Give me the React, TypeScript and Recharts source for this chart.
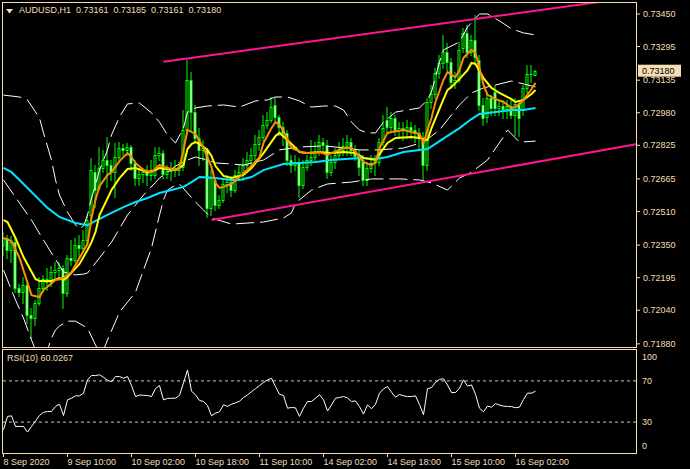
import React from "react";
import { ComposedChart, Bar, Line, XAxis, YAxis, ReferenceLine } from "recharts";

const WHEAT = "#F5DEB3";
const FONT = "'Liberation Sans', Arial, sans-serif";

// AUDUSD H1 bars, 8 Sep 18:00 .. 16 Sep 07:00 (index = bar number)
const opens = [
  0.7235, 0.72384, 0.72327, 0.72364, 0.72146, 0.72126, 0.7216, 0.72017, 0.72003, 0.72074,
  0.72146, 0.72189, 0.72174, 0.72222, 0.72231, 0.72241, 0.72122, 0.72289, 0.72279, 0.7235,
  0.72336, 0.72374, 0.72493, 0.72697, 0.72622, 0.72717, 0.72755, 0.72731, 0.72697, 0.72769,
  0.72812, 0.72803, 0.72817, 0.72741, 0.72669, 0.72688, 0.72697, 0.72684, 0.72684, 0.72779,
  0.72788, 0.72688, 0.72702, 0.72717, 0.72707, 0.72722, 0.72898, 0.73136, 0.72983, 0.7286,
  0.72803, 0.72803, 0.72527, 0.7266, 0.72541, 0.72565, 0.72641, 0.7265, 0.72612, 0.72684,
  0.72697, 0.72731, 0.72755, 0.72779, 0.72831, 0.72865, 0.72922, 0.72945, 0.73017, 0.7296,
  0.72912, 0.72884, 0.72755, 0.72731, 0.72745, 0.72636, 0.72722, 0.72755, 0.72769, 0.72793,
  0.7284, 0.72826, 0.72697, 0.72745, 0.72779, 0.72803, 0.72822, 0.7284, 0.72803, 0.72774,
  0.72755, 0.7266, 0.72717, 0.72741, 0.72745, 0.7284, 0.72945, 0.72912, 0.72955, 0.72898,
  0.72907, 0.72898, 0.72912, 0.72898, 0.72884, 0.7286, 0.72731, 0.73031, 0.73069, 0.73169,
  0.73217, 0.73269, 0.73221, 0.73126, 0.73136, 0.73288, 0.7336, 0.73269, 0.73326, 0.73231,
  0.73017, 0.7296, 0.7305, 0.73079, 0.73003, 0.73012, 0.72998, 0.73012, 0.72969, 0.73022,
  0.72993, 0.73098, 0.73164, 0.73161,
];
const highs = [
  0.72412, 0.72398, 0.72393, 0.72384, 0.72165, 0.72198, 0.72174, 0.72051, 0.72089, 0.72198,
  0.72208, 0.72241, 0.7225, 0.72269, 0.72269, 0.72255, 0.72303, 0.72374, 0.72384, 0.72398,
  0.72422, 0.72493, 0.72765, 0.72731, 0.72817, 0.72803, 0.72865, 0.72755, 0.72836, 0.7284,
  0.72831, 0.72836, 0.72826, 0.72755, 0.72717, 0.72717, 0.72731, 0.72755, 0.72817, 0.72817,
  0.72803, 0.72731, 0.72745, 0.72755, 0.72745, 0.72993, 0.73231, 0.73174, 0.73017, 0.72907,
  0.7285, 0.72812, 0.72707, 0.72669, 0.72588, 0.7266, 0.72684, 0.72679, 0.72707, 0.72731,
  0.72765, 0.72793, 0.72812, 0.72874, 0.72898, 0.72969, 0.72983, 0.73055, 0.73055, 0.72969,
  0.72935, 0.72898, 0.72779, 0.72779, 0.72765, 0.72755, 0.72779, 0.7285, 0.7284, 0.72874,
  0.7286, 0.7285, 0.72779, 0.72812, 0.7284, 0.7286, 0.72874, 0.7286, 0.72826, 0.72803,
  0.72779, 0.72745, 0.72779, 0.72779, 0.7286, 0.72969, 0.73007, 0.72983, 0.72969, 0.72935,
  0.72935, 0.72945, 0.72935, 0.72922, 0.72907, 0.72888, 0.7305, 0.73112, 0.73193, 0.73255,
  0.7335, 0.73312, 0.73241, 0.73174, 0.73317, 0.73384, 0.73398, 0.7335, 0.73445, 0.73255,
  0.7305, 0.73079, 0.73064, 0.73112, 0.73041, 0.73041, 0.73041, 0.73041, 0.7305, 0.73041,
  0.73112, 0.73207, 0.73207, 0.73185,
];
const lows = [
  0.72303, 0.72289, 0.72269, 0.72126, 0.72107, 0.72074, 0.71979, 0.71908, 0.7197, 0.72065,
  0.72126, 0.72136, 0.72155, 0.72193, 0.72184, 0.72051, 0.72107, 0.72255, 0.72269, 0.72289,
  0.72317, 0.7235, 0.72445, 0.72531, 0.72612, 0.72697, 0.72627, 0.7266, 0.72579, 0.72755,
  0.72779, 0.72779, 0.72707, 0.72636, 0.72636, 0.7265, 0.72636, 0.7266, 0.72669, 0.72755,
  0.72669, 0.72669, 0.7266, 0.72679, 0.72684, 0.72707, 0.72888, 0.72898, 0.7284, 0.72731,
  0.72755, 0.72484, 0.72493, 0.72517, 0.72527, 0.72555, 0.72603, 0.72584, 0.72603, 0.7266,
  0.7266, 0.72717, 0.72731, 0.72745, 0.72803, 0.7285, 0.72907, 0.72935, 0.72935, 0.72874,
  0.72826, 0.72731, 0.72697, 0.72707, 0.72579, 0.72622, 0.72707, 0.72731, 0.72755, 0.72779,
  0.72803, 0.72669, 0.72684, 0.72717, 0.72765, 0.72779, 0.72779, 0.72779, 0.72755, 0.72684,
  0.72636, 0.72636, 0.72697, 0.72684, 0.72731, 0.72826, 0.72884, 0.72888, 0.72874, 0.7286,
  0.7285, 0.7286, 0.7286, 0.7284, 0.72803, 0.7266, 0.72707, 0.73003, 0.7305, 0.73145,
  0.73193, 0.73183, 0.73098, 0.73098, 0.73126, 0.73269, 0.73245, 0.73255, 0.73221, 0.72993,
  0.72922, 0.72935, 0.72969, 0.72969, 0.72969, 0.72955, 0.72955, 0.72955, 0.72874, 0.72869,
  0.72969, 0.73079, 0.73126, 0.73161,
];
const closes = [
  0.72384, 0.72327, 0.72364, 0.72146, 0.72126, 0.7216, 0.72017, 0.72003, 0.72074, 0.72146,
  0.72189, 0.72174, 0.72222, 0.72231, 0.72241, 0.72122, 0.72289, 0.72279, 0.7235, 0.72336,
  0.72374, 0.72469, 0.72707, 0.72612, 0.72717, 0.72755, 0.72731, 0.72697, 0.72769, 0.72812,
  0.72803, 0.72817, 0.72741, 0.72669, 0.72688, 0.72697, 0.72684, 0.72697, 0.72779, 0.72788,
  0.72688, 0.72702, 0.72717, 0.72707, 0.72722, 0.72898, 0.73136, 0.72983, 0.7286, 0.72803,
  0.72812, 0.72527, 0.72669, 0.72541, 0.72565, 0.72641, 0.7265, 0.72612, 0.72684, 0.72697,
  0.72731, 0.72755, 0.72779, 0.72831, 0.72865, 0.72922, 0.72945, 0.73007, 0.7296, 0.72912,
  0.72884, 0.72755, 0.72731, 0.72745, 0.72636, 0.72722, 0.72755, 0.72769, 0.72793, 0.7284,
  0.72826, 0.72697, 0.72745, 0.72779, 0.72803, 0.72822, 0.7284, 0.72803, 0.72774, 0.72722,
  0.7266, 0.72717, 0.72741, 0.72745, 0.7284, 0.72907, 0.72912, 0.72955, 0.72898, 0.72907,
  0.72898, 0.72912, 0.72898, 0.72884, 0.7286, 0.72731, 0.73031, 0.73069, 0.73169, 0.73217,
  0.73269, 0.73221, 0.73126, 0.73136, 0.73279, 0.7336, 0.73269, 0.73326, 0.73245, 0.73017,
  0.72955, 0.7305, 0.73003, 0.73003, 0.73012, 0.72998, 0.73012, 0.72969, 0.73022, 0.72955,
  0.73098, 0.73164, 0.73164, 0.7318,
];

// moving averages as [bar, price]
const maFast = [
  [0, 0.72384], [2, 0.72369], [4, 0.72289], [7, 0.72112], [9, 0.72103], [10, 0.72136], [13, 0.72184],
  [15, 0.72193], [17, 0.72222], [19, 0.72289], [21, 0.72355], [22, 0.72479], [23, 0.72565], [24, 0.72631],
  [26, 0.72684], [27, 0.72697], [29, 0.7275], [31, 0.72788], [32, 0.72769], [33, 0.72741], [35, 0.72707],
  [37, 0.72697], [39, 0.72731], [40, 0.72722], [43, 0.72707], [44, 0.72722], [45, 0.72803], [46, 0.72898],
  [48, 0.72879], [50, 0.72812], [52, 0.72722], [53, 0.72646], [54, 0.72622], [55, 0.72627], [57, 0.72641],
  [59, 0.72674], [62, 0.72726], [64, 0.72769], [65, 0.72836], [67, 0.72907], [68, 0.72935], [69, 0.72922],
  [70, 0.72893], [72, 0.72812], [75, 0.72788], [77, 0.72788], [79, 0.72793], [81, 0.72779], [82, 0.72788],
  [85, 0.72812], [87, 0.72812], [88, 0.72793], [90, 0.72745], [92, 0.72731], [93, 0.72745], [94, 0.72812],
  [96, 0.72884], [97, 0.72888], [100, 0.72898], [102, 0.72888], [104, 0.72879], [105, 0.72836], [106, 0.72898],
  [107, 0.72955], [108, 0.73031], [110, 0.73136], [111, 0.73174], [112, 0.7316], [113, 0.7315], [114, 0.73183],
  [115, 0.73241], [117, 0.73279], [118, 0.73264], [119, 0.73193], [120, 0.73112], [121, 0.73065], [123, 0.73045],
  [125, 0.73031], [127, 0.73003], [128, 0.73007], [129, 0.73022], [130, 0.73041], [132, 0.73093], [133, 0.73122],
];
const maMid = [
  [0, 0.72469], [1, 0.7246], [3, 0.72384], [5, 0.72293], [8, 0.72189], [9, 0.72179], [12, 0.72179],
  [14, 0.72193], [15, 0.72184], [16, 0.72198], [19, 0.7226], [21, 0.72327], [22, 0.72364], [23, 0.72412],
  [24, 0.72493], [27, 0.72612], [29, 0.72669], [31, 0.72712], [33, 0.72717], [36, 0.72697], [38, 0.72707],
  [39, 0.72717], [43, 0.72707], [45, 0.72731], [46, 0.72807], [47, 0.72831], [48, 0.7284], [49, 0.72831],
  [51, 0.72803], [52, 0.72774], [53, 0.72726], [55, 0.72679], [57, 0.72669], [60, 0.72684], [62, 0.72717],
  [65, 0.72788], [68, 0.72869], [69, 0.72884], [71, 0.7285], [74, 0.72793], [76, 0.72788], [79, 0.72793],
  [82, 0.72788], [85, 0.72793], [88, 0.72788], [90, 0.72765], [93, 0.72755], [94, 0.72783], [96, 0.72836],
  [98, 0.7286], [102, 0.72865], [104, 0.7286], [106, 0.7285], [107, 0.72907], [110, 0.73045], [111, 0.73088],
  [112, 0.73103], [114, 0.73141], [116, 0.73183], [117, 0.73217], [118, 0.73212], [120, 0.73145], [122, 0.73098],
  [124, 0.73074], [127, 0.73045], [128, 0.73031], [130, 0.73041], [132, 0.73069], [133, 0.73088],
];
const maSlow = [
  [0, 0.72717], [2, 0.72697], [4, 0.7266], [8, 0.72584], [11, 0.72527], [14, 0.72484], [18, 0.72455],
  [21, 0.72445], [23, 0.72465], [27, 0.72503], [30, 0.72531], [33, 0.72555], [36, 0.72574], [39, 0.72598],
  [42, 0.72612], [45, 0.72627], [47, 0.7265], [49, 0.72674], [53, 0.72669], [57, 0.7266], [59, 0.7266],
  [62, 0.72674], [65, 0.72707], [70, 0.72736], [74, 0.72741], [78, 0.72745], [82, 0.72755], [89, 0.72765],
  [93, 0.7276], [96, 0.72769], [100, 0.72793], [106, 0.72807], [109, 0.72845], [114, 0.72907], [117, 0.7295],
  [119, 0.72974], [123, 0.72983], [127, 0.72993], [130, 0.72993], [133, 0.73003],
];

// Bollinger bands as [bar, price]
const bbUpper = [
  [0, 0.73064], [4, 0.73055], [6, 0.73041], [9, 0.72955], [10, 0.72884], [12, 0.72755], [13, 0.7266],
  [14, 0.72588], [16, 0.72507], [18, 0.72446], [19, 0.72427], [20, 0.72441], [21, 0.72493], [22, 0.72574],
  [23, 0.72636], [24, 0.72707], [26, 0.72803], [27, 0.72874], [29, 0.7296], [31, 0.73022], [34, 0.73026],
  [37, 0.72979], [39, 0.72935], [41, 0.72874], [43, 0.72836], [45, 0.72907], [46, 0.72983], [48, 0.73003],
  [51, 0.73012], [55, 0.73017], [59, 0.73007], [63, 0.73036], [66, 0.73041], [68, 0.73055], [71, 0.73055],
  [74, 0.73036], [77, 0.73007], [80, 0.73012], [83, 0.73012], [85, 0.72993], [87, 0.72935], [89, 0.72898],
  [91, 0.72884], [93, 0.72884], [95, 0.72935], [98, 0.72983], [101, 0.72993], [104, 0.73003], [106, 0.73041],
  [107, 0.73079], [109, 0.73221], [110, 0.73279], [114, 0.73317], [116, 0.73388], [119, 0.7345], [121, 0.7345],
  [124, 0.73417], [127, 0.73379], [130, 0.7336], [133, 0.7335],
];
const bbMiddle = [
  [0, 0.7266], [4, 0.7255], [7, 0.72469], [10, 0.72374], [12, 0.72312], [15, 0.72222], [18, 0.72208],
  [20, 0.72212], [21, 0.72217], [24, 0.72289], [27, 0.72364], [31, 0.72493], [35, 0.72588], [39, 0.72669],
  [43, 0.72726], [46, 0.72755], [48, 0.72769], [51, 0.72755], [53, 0.72741], [57, 0.72736], [60, 0.72731],
  [65, 0.72755], [69, 0.72803], [74, 0.72817], [80, 0.72822], [83, 0.72817], [89, 0.72803], [94, 0.72803],
  [100, 0.72812], [105, 0.7284], [107, 0.72869], [109, 0.72898], [114, 0.73017], [117, 0.73074], [120, 0.73098],
  [123, 0.73112], [127, 0.73131], [130, 0.73117], [133, 0.73103],
];
const bbLower = [
  [0, 0.72231], [3, 0.72089], [5, 0.72003], [7, 0.71898], [8, 0.71851], [10, 0.71812], [11, 0.71851],
  [12, 0.71908], [13, 0.71946], [14, 0.71965], [16, 0.71988], [18, 0.71988], [21, 0.71955], [23, 0.71874],
  [24, 0.71841], [25, 0.71851], [26, 0.71898], [29, 0.72031], [33, 0.72126], [37, 0.72336], [39, 0.72493],
  [40, 0.72565], [41, 0.72612], [43, 0.72636], [44, 0.72641], [46, 0.72598], [48, 0.72555], [50, 0.72517],
  [52, 0.72479], [57, 0.7245], [65, 0.7246], [70, 0.72479], [72, 0.72503], [73, 0.7255], [77, 0.72612],
  [81, 0.72641], [87, 0.7265], [92, 0.72665], [99, 0.72665], [104, 0.7266], [107, 0.72646], [111, 0.72612],
  [114, 0.72669], [117, 0.72697], [121, 0.72755], [125, 0.72865], [126, 0.72898], [129, 0.7284], [133, 0.72845],
];

// RSI(10), one value per bar
const rsi = [
  22.6, 35.5, 36.1, 25.8, 25.8, 25.8, 20.3, 25.8, 31, 36.5,
  39.5, 40.3, 40.3, 45.2, 47.4, 36.4, 51.6, 53.2, 55.5, 55.5,
  58.1, 71.0, 75.2, 75.2, 76.0, 73.5, 70.5, 69.3, 74.2, 74.2,
  72.6, 74.2, 65.5, 54.8, 56.3, 56.0, 55.8, 54.8, 62.5, 65.5,
  51.6, 53.0, 53.2, 53.2, 56.0, 68, 80.6, 60, 56.5, 51,
  50.0, 46.0, 36.1, 38.7, 40, 46.8, 45.2, 47.4, 48.7, 50.3,
  53.9, 56.3, 59.5, 62.5, 65.5, 68.5, 71.0, 72.6, 64.5, 57,
  55.8, 43.5, 44.2, 43.8, 35.5, 43.5, 50.0, 50.0, 53.2, 56.5,
  51.6, 40.9, 46.5, 53.2, 53.9, 54.8, 53.5, 50.0, 50.6, 45.0,
  37.8, 46.8, 42.9, 47.4, 58, 62.3, 64.5, 59, 54.2, 56.8,
  55.5, 54.8, 54.8, 55.5, 47, 37.1, 62.5, 63.5, 68.5, 71.5,
  72.0, 66, 58.7, 58.7, 62.9, 71.0, 65, 66.1, 57, 43.5,
  40, 45.5, 44.5, 48, 46.5, 45.5, 45.2, 45.0, 44.0, 44.5,
  52.0, 58.1, 58.1, 60.0267,
];

const priceTicks = [0.7188, 0.7204, 0.72195, 0.7235, 0.7251, 0.72665, 0.72825, 0.7298, 0.73135, 0.73295, 0.7345];
const timeTicks = [0, 16, 32, 48, 64, 80, 96, 112, 128];
const timeLabels = [
  "8 Sep 2020", "9 Sep 10:00", "10 Sep 02:00", "10 Sep 18:00", "11 Sep 10:00",
  "14 Sep 02:00", "14 Sep 18:00", "15 Sep 10:00", "16 Sep 02:00",
];
const rsiTicks = [0, 30, 70, 100];

// trend channel drawn on the chart, [bar, price] anchors
const channelUpper = [[40, 0.73223], [158.125, 0.73531]];
const channelLower = [[52, 0.72469], [158.125, 0.7283]];

const X_DOMAIN = [-0.375, 158.125];
const PRICE_DOMAIN = [0.71865, 0.73507];

const candles = opens.map((o, i) => ({
  i,
  o,
  h: highs[i],
  l: lows[i],
  c: closes[i],
  range: [lows[i], highs[i]],
}));
const pts = (arr: number[][]) => arr.map(([i, v]) => ({ i, v }));
const rsiPts = rsi.map((v, i) => ({ i, v }));
const seg = (arr: number[][]) => arr.map(([x, y]) => ({ x, y }));

function Candle(props: any) {
  const { x, y, width, height, payload } = props;
  if (x == null || y == null || !payload) return null;
  const { o, h, l, c } = payload;
  const cx = x + width / 2;
  const span = h - l;
  const py = (v: number) => (span > 0 ? y + ((h - v) / span) * height : y);
  const top = Math.round(Math.min(py(o), py(c))) + 0.5;
  const bot = Math.round(Math.max(py(o), py(c))) + 0.5;
  const bull = c >= o;
  return (
    <g>
      <line x1={cx} x2={cx} y1={Math.round(y)} y2={Math.round(y + height) + 1} stroke="#00FF00" />
      {bot - top >= 1 ? (
        <rect x={cx - 1} y={top} width={2} height={bot - top} fill={bull ? "#000" : "#fff"} stroke="#00FF00" />
      ) : (
        <line x1={cx - 1.5} x2={cx + 1.5} y1={top} y2={top} stroke="#00FF00" />
      )}
    </g>
  );
}

function TimeTick(props: any) {
  const { x, y, payload } = props;
  const idx = timeTicks.indexOf(payload.value);
  return (
    <text x={x} y={y} dy="0.71em" textAnchor="start" fill={WHEAT} fontSize={9} fontFamily={FONT}>
      {timeLabels[idx]}
    </text>
  );
}

function RsiTick(props: any) {
  const { x, y, payload } = props;
  const v = payload.value;
  const shift = v === 100 ? 7 : v === 0 ? -7 : 0;
  return (
    <text x={x} y={y + shift} dy="0.355em" textAnchor="start" fill={WHEAT} fontSize={9} fontFamily={FONT}>
      {v}
    </text>
  );
}

function PriceTag(props: any) {
  const { viewBox } = props;
  if (!viewBox) return null;
  const x = viewBox.x + viewBox.width + 2;
  const y = viewBox.y;
  return (
    <g>
      <rect x={x} y={y - 6} width={43} height={12} fill={WHEAT} />
      <text x={x + 4} y={y} dy="0.355em" fill="#000" fontSize={9} fontFamily={FONT}>
        {closes[closes.length - 1].toFixed(5)}
      </text>
    </g>
  );
}

const frame: React.CSSProperties = {
  position: "absolute",
  boxSizing: "border-box",
  border: `1px solid ${WHEAT}`,
  pointerEvents: "none",
};

export default function App() {
  return (
    <div style={{ position: "relative", width: 690, height: 469, background: "#000", fontFamily: FONT, overflow: "hidden" }}>
      <style>{"body{margin:0;background:#000}"}</style>

      <div style={{ position: "absolute", left: 0, top: 0 }}>
        <ComposedChart width={690} height={349} data={candles} margin={{ top: 2, right: 0, bottom: 2, left: 2 }}>
          <XAxis type="number" dataKey="i" domain={X_DOMAIN} allowDataOverflow hide />
          <YAxis
            orientation="right"
            width={54}
            domain={PRICE_DOMAIN}
            allowDataOverflow
            ticks={priceTicks}
            interval={0}
            tickFormatter={(v: number) => v.toFixed(5)}
            tick={{ fill: WHEAT, fontSize: 9, fontFamily: FONT }}
            tickLine={{ stroke: WHEAT }}
            tickSize={4}
            tickMargin={3}
            axisLine={false}
          />
          <Line data={pts(bbUpper)} dataKey="v" stroke="#fff" strokeWidth={1} strokeDasharray="18 6" dot={false} isAnimationActive={false} />
          <Line data={pts(bbMiddle)} dataKey="v" stroke="#fff" strokeWidth={1} strokeDasharray="18 6" dot={false} isAnimationActive={false} />
          <Line data={pts(bbLower)} dataKey="v" stroke="#fff" strokeWidth={1} strokeDasharray="18 6" dot={false} isAnimationActive={false} />
          <Bar dataKey="range" barSize={3} shape={<Candle />} isAnimationActive={false} />
          <Line data={pts(maSlow)} dataKey="v" stroke="#00E5FF" strokeWidth={2} dot={false} isAnimationActive={false} />
          <Line data={pts(maMid)} dataKey="v" stroke="#FFFF00" strokeWidth={2} dot={false} isAnimationActive={false} />
          <Line data={pts(maFast)} dataKey="v" stroke="#FF8C00" strokeWidth={2} dot={false} isAnimationActive={false} />
          <ReferenceLine segment={seg(channelUpper)} stroke="#FF1493" strokeWidth={2} ifOverflow="hidden" />
          <ReferenceLine segment={seg(channelLower)} stroke="#FF1493" strokeWidth={2} ifOverflow="hidden" />
          <ReferenceLine y={closes[closes.length - 1]} stroke="none" label={<PriceTag />} />
        </ComposedChart>
      </div>

      <div style={{ position: "absolute", left: 0, top: 348 }}>
        <ComposedChart width={690} height={121} data={rsiPts} margin={{ top: 2, right: 0, bottom: 0, left: 2 }}>
          <XAxis
            type="number"
            dataKey="i"
            domain={X_DOMAIN}
            allowDataOverflow
            ticks={timeTicks}
            interval={0}
            tick={<TimeTick />}
            tickLine={{ stroke: WHEAT }}
            tickSize={4}
            tickMargin={2}
            height={16}
            axisLine={false}
          />
          <YAxis
            orientation="right"
            width={54}
            domain={[0, 100]}
            allowDataOverflow
            ticks={rsiTicks}
            interval={0}
            tick={<RsiTick />}
            tickLine={false}
            tickSize={4}
            tickMargin={2}
            axisLine={false}
          />
          <ReferenceLine y={70} stroke="#C8C8C8" strokeDasharray="3 3" />
          <ReferenceLine y={30} stroke="#C8C8C8" strokeDasharray="3 3" />
          <Line dataKey="v" stroke="#fff" strokeWidth={1} dot={false} isAnimationActive={false} />
        </ComposedChart>
      </div>

      <div style={{ ...frame, left: 2, top: 2, width: 635, height: 346 }} />
      <div style={{ ...frame, left: 2, top: 349, width: 635, height: 105 }} />

      <svg style={{ position: "absolute", left: 6, top: 9 }} width={7} height={5}>
        <polygon points="0,0 7,0 3.5,4.5" fill={WHEAT} />
      </svg>
      <div style={{ position: "absolute", left: 19, top: 5, fontSize: 9, lineHeight: "10px", color: WHEAT, whiteSpace: "pre" }}>
        {"AUDUSD,H1  0.73161  0.73185  0.73161  0.73180"}
      </div>
      <div style={{ position: "absolute", left: 7, top: 353, fontSize: 9, lineHeight: "10px", color: WHEAT, whiteSpace: "pre" }}>
        {"RSI(10) 60.0267"}
      </div>
    </div>
  );
}
